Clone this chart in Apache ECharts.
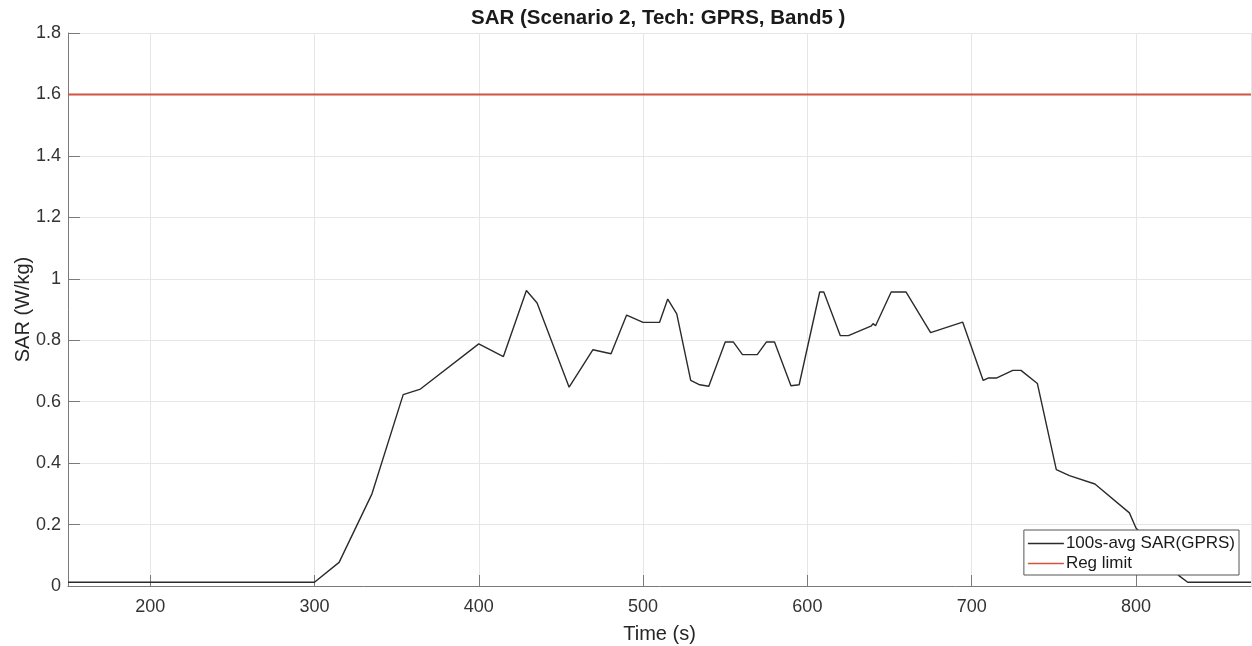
<!DOCTYPE html>
<html>
<head>
<meta charset="utf-8">
<script src="https://cdn.jsdelivr.net/npm/echarts@6/dist/echarts.min.js"></script>
<style>
  * { margin: 0; padding: 0; }
  body { background: #ffffff; }
</style>
</head>
<body>
<!-- chart container -->
<div id="main" style="width: 1252px; height: 646px;"></div>
<script>
// time axis (s) and 100s-avg SAR
var timeSec = [150, 300, 315, 335, 354, 364.5, 400, 415, 429, 435.5, 455, 469.5, 480.5,
  490, 500, 510, 515, 520.5, 529, 534.5, 540, 550, 555, 560.5, 569.5, 575, 580, 590, 595,
  607.5, 610, 620, 625, 639, 640, 641.5, 651, 660, 675, 694.5, 707, 710, 715, 725, 730, 740,
  751.5, 759.5, 775, 796, 800, 826.5, 831.5, 870];
var sarAvg = [0.012, 0.012, 0.077, 0.30, 0.623, 0.641, 0.788, 0.747, 0.962, 0.921, 0.647, 0.769, 0.756,
  0.882, 0.858, 0.858, 0.934, 0.886, 0.669, 0.655, 0.65, 0.794, 0.794, 0.753, 0.753, 0.794, 0.794, 0.652, 0.655,
  0.957, 0.957, 0.815, 0.815, 0.847, 0.854, 0.847, 0.957, 0.957, 0.825, 0.859, 0.669, 0.677, 0.677, 0.702, 0.702, 0.659,
  0.379, 0.359, 0.332, 0.238, 0.189, 0.032, 0.012, 0.012];

// regulatory limit
var limitTime = [150, 870];
var limitValue = [1.6, 1.6];

var seriesNames = ['100s-avg SAR(GPRS)', 'Reg limit'];

function pairs(xs, ys) {
  var out = [];
  for (var i = 0; i < xs.length; i++) out.push([xs[i], ys[i]]);
  return out;
}

var chart = echarts.init(document.getElementById('main'));
chart.setOption({
  backgroundColor: '#ffffff',
  animation: false,
  textStyle: { fontFamily: '"Liberation Sans", Arial, sans-serif' },
  title: {
    text: 'SAR (Scenario 2, Tech: GPRS, Band5 )',
    left: 471,
    top: 8,
    padding: 0,
    textStyle: { fontSize: 20.5, fontWeight: 'bold', color: '#1a1a1a' }
  },
  grid: { left: 68, right: 1, top: 33, bottom: 60, containLabel: false, outerBoundsMode: 'none' },
  legend: {
    orient: 'vertical',
    right: 13,
    bottom: 71,
    data: seriesNames,
    icon: 'rect',
    itemWidth: 36,
    itemHeight: 1.5,
    itemGap: 3,
    padding: [5, 4, 3, 4],
    backgroundColor: '#ffffff',
    borderColor: '#555555',
    borderWidth: 1,
    borderRadius: 0,
    textStyle: { fontSize: 17, color: '#1a1a1a', padding: [0, 0, 0, -3] }
  },
  xAxis: {
    type: 'value',
    min: 150,
    max: 870,
    splitNumber: 7,
    name: 'Time (s)',
    nameLocation: 'middle',
    nameGap: 38,
    nameMoveOverlap: false,
    nameTextStyle: { fontSize: 20, color: '#262626' },
    axisLine: { onZero: false, lineStyle: { color: '#7a7a7a', width: 1 } },
    axisTick: { inside: true, length: 11, lineStyle: { color: '#7a7a7a' } },
    axisLabel: { fontSize: 18, color: '#333333', margin: 12, showMinLabel: false, showMaxLabel: false },
    splitLine: { show: true, lineStyle: { color: '#e6e6e6', width: 1 } }
  },
  yAxis: {
    type: 'value',
    min: 0,
    max: 1.8,
    interval: 0.2,
    name: 'SAR (W/kg)',
    nameLocation: 'middle',
    nameGap: 35,
    nameMoveOverlap: false,
    nameTextStyle: { fontSize: 20, color: '#262626' },
    axisLine: { show: true, lineStyle: { color: '#7a7a7a', width: 1 } },
    axisTick: { show: true, inside: true, length: 12, lineStyle: { color: '#7a7a7a' } },
    axisLabel: { fontSize: 18, color: '#333333', margin: 7 },
    splitLine: { show: true, lineStyle: { color: '#e6e6e6', width: 1 } }
  },
  series: [
    {
      name: seriesNames[0],
      type: 'line',
      data: pairs(timeSec, sarAvg),
      symbol: 'none',
      lineStyle: { color: '#2b2b2b', width: 1.4 },
      itemStyle: { color: '#2b2b2b' },
      z: 3
    },
    {
      name: seriesNames[1],
      type: 'line',
      data: pairs(limitTime, limitValue),
      symbol: 'none',
      lineStyle: { color: '#cf5540', width: 2 },
      itemStyle: { color: '#cf5540' },
      z: 2
    }
  ]
});
</script>
</body>
</html>
